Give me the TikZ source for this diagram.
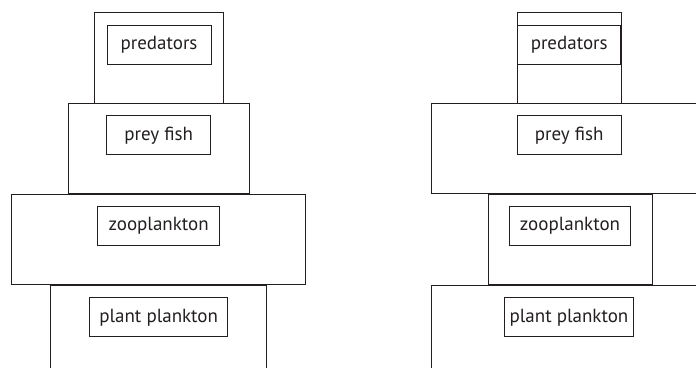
\documentclass[tikz,border=0pt]{standalone}
\usepackage{fontspec}
\setmainfont{PT Sans}
\usetikzlibrary{positioning}
\definecolor{ink}{HTML}{231F20}

\begin{document}
\begin{tikzpicture}[x=1pt,y=-1pt,ink,line width=1pt,node distance=12.7pt]
    \tikzstyle{tier}=[draw, rectangle, inner sep=0pt, minimum height=90.6pt]
    \tikzstyle{namebox}=[draw, rectangle, inner sep=0pt, minimum height=39pt,
      font=\fontsize{19}{22}\selectfont, anchor=north]

    \clip (0,0) rectangle (696,367);

    % left pyramid
    \node[tier, minimum width=129.4pt] (predL)  at (159,58)    {};
    \node[tier, minimum width=181.3pt] (preyL)  at (158.7,148.5) {};
    \node[tier, minimum width=294pt]   (zooL)   at (158.7,239.3) {};
    \node[tier, minimum width=216pt]   (plantL) at (158.7,330.5) {};
    \node[namebox, minimum width=104pt]   (predLbox)  [below=of predL.north]  {predators};
    \node[namebox, minimum width=104pt]   (preyLbox)  [below=of preyL.north]  {prey fish};
    \node[namebox, minimum width=121.6pt] (zooLbox)   [below=of zooL.north]   {zooplankton};
    \node[namebox, minimum width=138.4pt] (plantLbox) [below=of plantL.north] {plant plankton};

    % right pyramid
    \node[tier, minimum width=103.7pt] (predR)  at (569.2,58)    {};
    \node[tier, minimum width=275pt]   (preyR)  at (569.2,148.5) {};
    \node[tier, minimum width=164pt]   (zooR)   at (570,239.3)   {};
    \node[tier, minimum width=276pt]   (plantR) at (569,330.5)   {};
    \node[namebox, minimum width=103.7pt, line width=1.4pt] (predRbox) [below=of predR.north] {predators};
    \node[namebox, minimum width=104.3pt] (preyRbox)  [below=of preyR.north]  {prey fish};
    \node[namebox, minimum width=121.4pt] (zooRbox)   [below=of zooR.north]   {zooplankton};
    \node[namebox, minimum width=129.7pt] (plantRbox) [below=of plantR.north] {plant plankton};
\end{tikzpicture}
\end{document}
